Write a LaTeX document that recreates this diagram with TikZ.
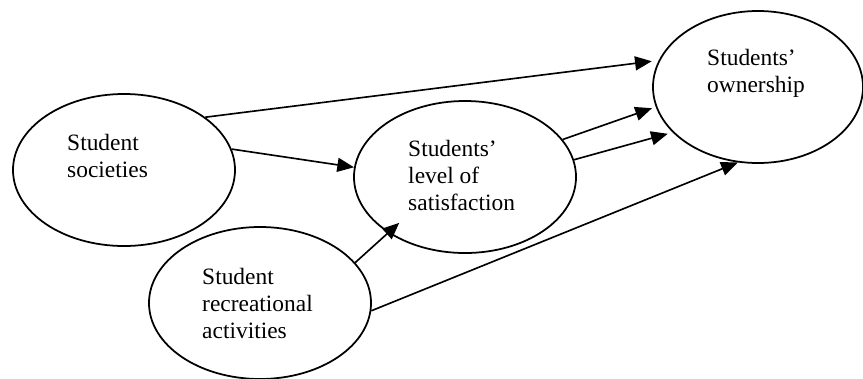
\documentclass[tikz,border=0pt]{standalone}
\usepackage{fontspec}
\setmainfont{Liberation Serif}
\usetikzlibrary{shapes.geometric,arrows.meta}

\begin{document}
\begin{tikzpicture}[x=0.03cm,y=-0.03cm,
    bubble/.style={draw=black, line width=1.5pt, ellipse, minimum width=6.66cm, minimum height=4.56cm, inner sep=0pt},
    lbl/.style={anchor=base west, align=left, inner sep=0pt, font=\fontsize{20}{23}\selectfont},
    arr/.style={line width=1.4pt, -{Triangle[length=0.5cm,width=0.42cm]}}]
  \useasboundingbox (0,0) rectangle (863,378);

  % the four ellipses
  \node[bubble] (soc) at (124,170) {};
  \node[bubble] (sat) at (465,177) {};
  \node[bubble, minimum width=6.3cm] (own) at (758,87) {};
  \node[bubble] (rec) at (260,303) {};

  % their texts (base = last line)
  \node[lbl] (socT) at (67,177) {Student\\societies};
  \node[lbl] (satT) at (408,210) {Students’\\level of\\satisfaction};
  \node[lbl] (ownT) at (707,92) {Students’\\ownership};
  \node[lbl] (recT) at (202,338) {Student\\recreational\\activities};

  % paths
  \draw[arr, shorten >=0.21cm] (soc.33.5) -- (own.165.7);
  \draw[arr] (soc.11.2) -- (sat.175.3);
  \draw[arr, shorten >=0.12cm] (sat.21.7) -- (own.191.3);
  \draw[arr, shorten >=0.15cm] (sat.9.1) -- (own.208.1);
  \draw[arr, shorten >=-0.45cm] (rec.23.7) -- (sat.216.1);
  \draw[arr] (rec.-4.1) -- (own.255.1);
\end{tikzpicture}
\end{document}
